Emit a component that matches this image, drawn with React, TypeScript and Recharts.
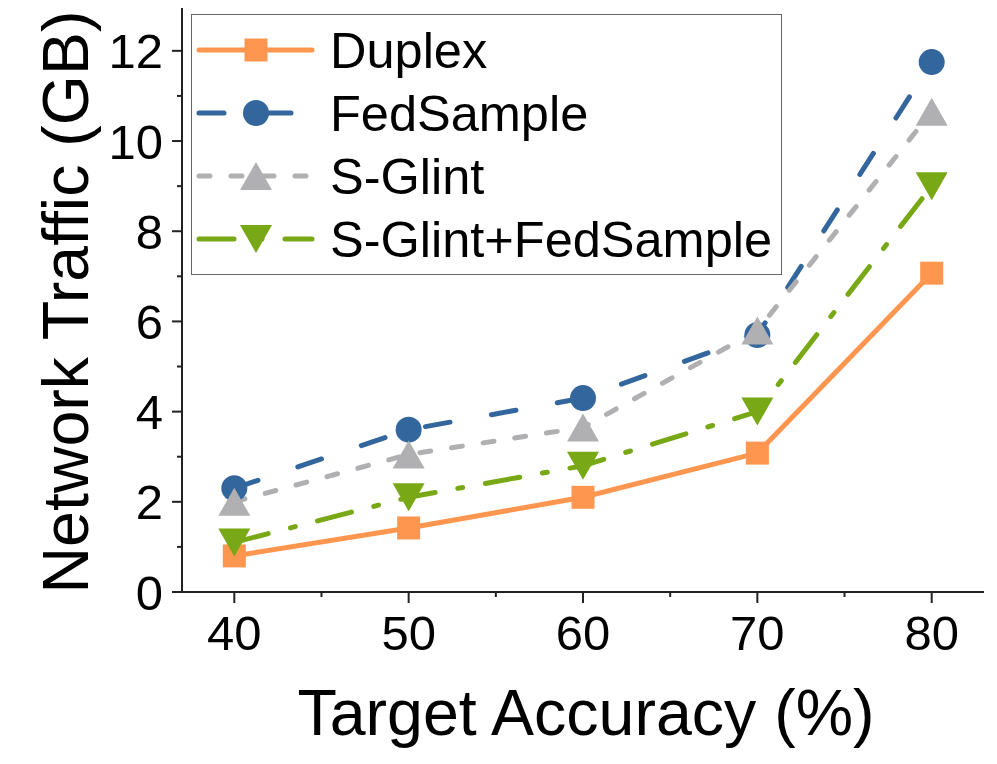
import { LineChart, Line, XAxis, YAxis, Legend, Label } from "recharts";

// values
const accuracy = [40, 50, 60, 70, 80];
const duplex = [0.8, 1.42, 2.1, 3.08, 7.07];
const fedSample = [2.3, 3.6, 4.3, 5.7, 11.75];
const sGlint = [2.0, 3.05, 3.65, 5.8, 10.65];
const sGlintFed = [1.1, 2.1, 2.8, 4.0, 9.0];

const xTicks = [40, 45, 50, 55, 60, 65, 70, 75, 80];
const yTicks = [0, 1, 2, 3, 4, 5, 6, 7, 8, 9, 10, 11, 12];

const rows = accuracy.map((acc, i) => ({
  acc,
  duplex: duplex[i],
  fedSample: fedSample[i],
  sGlint: sGlint[i],
  sGlintFed: sGlintFed[i],
}));

const FONT = "'Liberation Sans', Arial, Helvetica, sans-serif";
const AXIS = "#222";

type Shape = "square" | "circle" | "up" | "down";

const series: Array<{ key: string; name: string; color: string; dash?: string; shape: Shape }> = [
  { key: "duplex", name: "Duplex", color: "#ff9650", shape: "square" },
  { key: "fedSample", name: "FedSample", color: "#33669c", dash: "25 42", shape: "circle" },
  { key: "sGlint", name: "S-Glint", color: "#b0b0b2", dash: "11 21", shape: "up" },
  { key: "sGlintFed", name: "S-Glint+FedSample", color: "#78a815", dash: "35 23 5 23", shape: "down" },
];

function Marker({ shape, cx, cy, color }: { shape: Shape; cx: number; cy: number; color: string }) {
  if (shape === "square") return <rect x={cx - 11.5} y={cy - 11.5} width={23} height={23} fill={color} />;
  if (shape === "circle") return <circle cx={cx} cy={cy} r={13} fill={color} />;
  if (shape === "up")
    return <polygon points={`${cx},${cy - 14} ${cx + 16},${cy + 14} ${cx - 16},${cy + 14}`} fill={color} />;
  return <polygon points={`${cx},${cy + 14} ${cx + 16},${cy - 14} ${cx - 16},${cy - 14}`} fill={color} />;
}

const XTick = (props: any) => {
  const { x, y, payload } = props;
  const major = payload.value % 10 === 0;
  return (
    <g>
      <line x1={x} x2={x} y1={y} y2={y + (major ? 11 : 5)} stroke={AXIS} strokeWidth={2} />
      {major && (
        <text x={x} y={y + 58} textAnchor="middle" fontSize={49} fontFamily={FONT} fill="#000">
          {payload.value}
        </text>
      )}
    </g>
  );
};

const YTick = (props: any) => {
  const { x, y, payload } = props;
  const major = payload.value % 2 === 0;
  return (
    <g>
      <line x1={x} x2={x - (major ? 10 : 5)} y1={y} y2={y} stroke={AXIS} strokeWidth={2} />
      {major && (
        <text x={x - 19} y={y + 17.5} textAnchor="end" fontSize={49} fontFamily={FONT} fill="#000">
          {payload.value}
        </text>
      )}
    </g>
  );
};

function LegendBox() {
  return (
    <svg width={591} height={261} style={{ display: "block" }}>
      <rect x={0.5} y={0.5} width={590} height={260} fill="#fff" stroke="#666" strokeWidth={1} />
      {series.map((s, i) => {
        const cy = 36 + i * 63;
        return (
          <g key={s.key}>
            <line
              x1={8}
              x2={121}
              y1={cy}
              y2={cy}
              stroke={s.color}
              strokeWidth={5}
              strokeDasharray={s.dash}
              strokeLinecap="round"
            />
            <Marker shape={s.shape} cx={65} cy={cy} color={s.color} />
            <text x={139} y={cy + 18} fontSize={50.5} fontFamily={FONT} fill="#000">
              {s.name}
            </text>
          </g>
        );
      })}
    </svg>
  );
}

export default function App() {
  return (
    <div style={{ position: "absolute", left: 0, top: 0, width: 997, height: 764, background: "#fff" }}>
      <LineChart width={997} height={764} data={rows} margin={{ top: 8, right: 13, bottom: 0, left: 0 }}>
        <XAxis
          dataKey="acc"
          type="number"
          domain={[37, 83]}
          ticks={xTicks}
          interval={0}
          allowDataOverflow
          height={172}
          tickSize={0}
          tickMargin={0}
          tick={<XTick />}
          tickLine={false}
          axisLine={{ stroke: AXIS, strokeWidth: 2 }}
        >
          <Label
            content={(p: any) => {
              const vb = p.viewBox;
              return (
                <text x={vb.x + vb.width / 2 + 3} y={vb.y + 143} textAnchor="middle" fontSize={64.5} fontFamily={FONT} fill="#000">
                  Target Accuracy (%)
                </text>
              );
            }}
          />
        </XAxis>
        <XAxis
          xAxisId="top"
          orientation="top"
          type="number"
          domain={[37, 83]}
          height={0}
          tick={false}
          tickLine={false}
          axisLine={{ stroke: AXIS, strokeWidth: 2 }}
        />
        <YAxis
          type="number"
          domain={[0, 12.95]}
          ticks={yTicks}
          interval={0}
          allowDataOverflow
          width={182}
          tickSize={0}
          tickMargin={0}
          tick={<YTick />}
          tickLine={false}
          axisLine={{ stroke: AXIS, strokeWidth: 2 }}
        >
          <Label
            content={(p: any) => {
              const vb = p.viewBox;
              const cy = vb.y + vb.height / 2;
              return (
                <text
                  x={88}
                  y={cy + 2}
                  transform={`rotate(-90, 88, ${cy + 2})`}
                  textAnchor="middle"
                  fontSize={64.5}
                  fontFamily={FONT}
                  fill="#000"
                >
                  Network Traffic (GB)
                </text>
              );
            }}
          />
        </YAxis>
        <YAxis
          yAxisId="right"
          orientation="right"
          width={0}
          domain={[0, 12.95]}
          tick={false}
          tickLine={false}
          axisLine={{ stroke: AXIS, strokeWidth: 2 }}
        />
        {series.map((s) => (
          <Line
            key={s.key}
            dataKey={s.key}
            name={s.name}
            stroke={s.color}
            strokeWidth={5}
            strokeDasharray={s.dash}
            strokeLinecap="round"
            isAnimationActive={false}
            activeDot={false}
            dot={(p: any) => <Marker key={`${s.key}-${p.index}`} shape={s.shape} cx={p.cx} cy={p.cy} color={s.color} />}
          />
        ))}
        <Legend
          layout="horizontal"
          verticalAlign="middle"
          align="center"
          wrapperStyle={{ left: 191, top: 14, width: 591, height: 261 }}
          content={() => <LegendBox />}
        />
      </LineChart>
    </div>
  );
}
